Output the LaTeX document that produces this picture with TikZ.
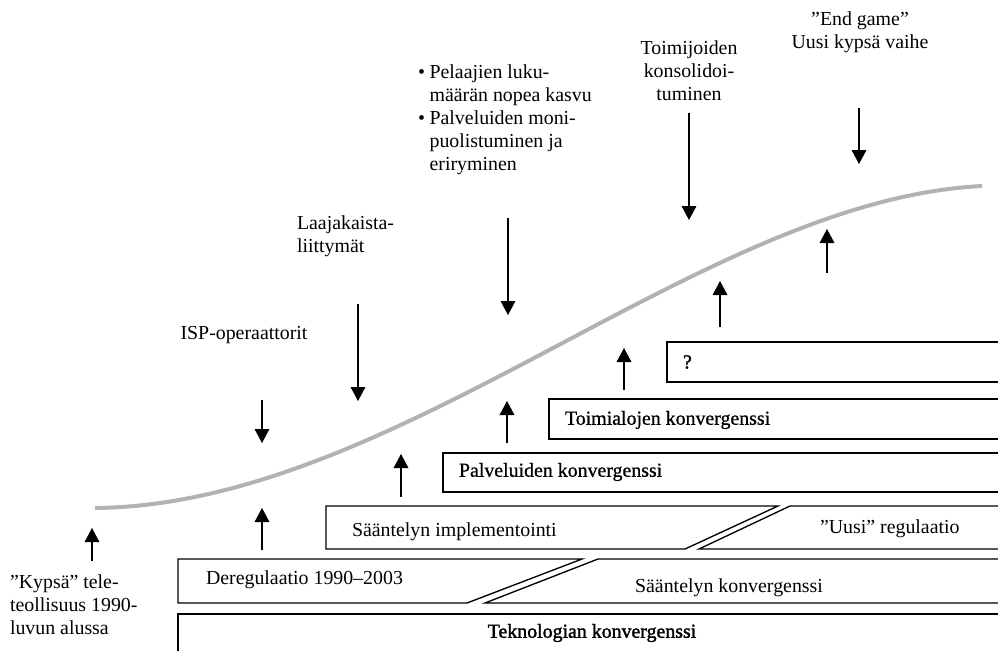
\documentclass[tikz,border=0pt]{standalone}
\usepackage{fontspec}
\setmainfont{Liberation Serif}
\newfontfamily\heavyfont{Liberation Serif}[FakeBold=1.6]
\newfontfamily\semiheavyfont{Liberation Serif}[FakeBold=0.8]
\usetikzlibrary{arrows.meta}
\begin{document}
\begin{tikzpicture}[x=0.75pt,y=-0.75pt,
  every node/.style={inner sep=0pt,outer sep=0pt,font=\fontsize{14.9}{17.25}\selectfont},
  layer/.style={draw=black,line width=1pt,fill=white},
  label/.style={anchor=west},
  note/.style={align=left,anchor=north west},
  push/.style={line width=0.8pt,-{Triangle[length=10.5pt,width=11pt]}},
  scurve/.style={draw=black!30,line width=3pt}]
\useasboundingbox (0,0) rectangle (998,650);
\clip (0,0) rectangle (998,650);

% growth curve
\draw[scurve] (95,508) .. controls (400,505) and (700,200) .. (982,186);

% stacked layers, bottom to top
\draw[layer] (178,614) rectangle (1010,680);
\node (tekn) at (592,633) {\heavyfont Teknologian konvergenssi};

\draw[layer] (178,559) -- (582,559) -- (467,603) -- (178,603) -- cycle;
\node[label] (dereg) at (206,580) {Deregulaatio 1990–2003};
\draw[layer] (485,603) -- (598,559) -- (1010,559) -- (1010,603) -- cycle;
\node (skonv) at (729,588) {Sääntelyn konvergenssi};

\draw[layer] (326,506) -- (778,506) -- (685,549) -- (326,549) -- cycle;
\node[label] (impl) at (352,532) {Sääntelyn implementointi};
\draw[layer] (790,506) -- (1010,506) -- (1010,549) -- (699,549) -- cycle;
\node[label] (uusi) at (820,529) {”Uusi” regulaatio};

\draw[layer] (443,453) rectangle (1010,492);
\node[label] (palv) at (459,472) {\semiheavyfont Palveluiden konvergenssi};
\draw[layer] (549,399) rectangle (1010,439);
\node[label] (toim) at (565,420) {\semiheavyfont Toimialojen konvergenssi};
\draw[layer] (667,342) rectangle (1010,382);
\node[label] (kysym) at (683,362) {\heavyfont ?};

% annotations
\node[note] (kypsa) at (10,575) {”Kypsä” tele-\\teollisuus 1990-\\luvun alussa};
\node (isp) at (244,335) {ISP-operaattorit};
\node[note] (laaja) at (297,216) {Laajakaista-\\liittymät};
\node[anchor=north west] (pelaajat) at (418,62) {\begin{tabular}{@{}l@{\hspace{3.5pt}}l@{}}
\textbullet & Pelaajien luku-\\
 & määrän nopea kasvu\\
\textbullet & Palveluiden moni-\\
 & puolistuminen ja\\
 & eriryminen
\end{tabular}};
\node[align=center,anchor=north] (konsol) at (689,41) {Toimijoiden\\konsolidoi-\\tuminen};
\node[align=center,anchor=north] (endgame) at (860,12) {”End game”\\Uusi kypsä vaihe};

% arrow end points
\coordinate (a1s) at (92,561);  \coordinate (a1e) at (92,528);
\coordinate (a2s) at (262,550); \coordinate (a2e) at (262,508);
\coordinate (a3s) at (262,400); \coordinate (a3e) at (262,443);
\coordinate (a4s) at (358,304); \coordinate (a4e) at (358,401);
\coordinate (a5s) at (401,497); \coordinate (a5e) at (401,454);
\coordinate (a6s) at (508,218); \coordinate (a6e) at (508,315);
\coordinate (a7s) at (507,443); \coordinate (a7e) at (507,401);
\coordinate (a8s) at (624,390); \coordinate (a8e) at (624,348);
\coordinate (a9s) at (720,327); \coordinate (a9e) at (720,281);
\coordinate (a10s) at (689,113); \coordinate (a10e) at (689,220);
\coordinate (a11s) at (827,273); \coordinate (a11e) at (827,229);
\coordinate (a12s) at (859,108); \coordinate (a12e) at (859,164);

\foreach \i in {1,...,12} \draw[push] (a\i s) -- (a\i e);
\end{tikzpicture}
\end{document}
